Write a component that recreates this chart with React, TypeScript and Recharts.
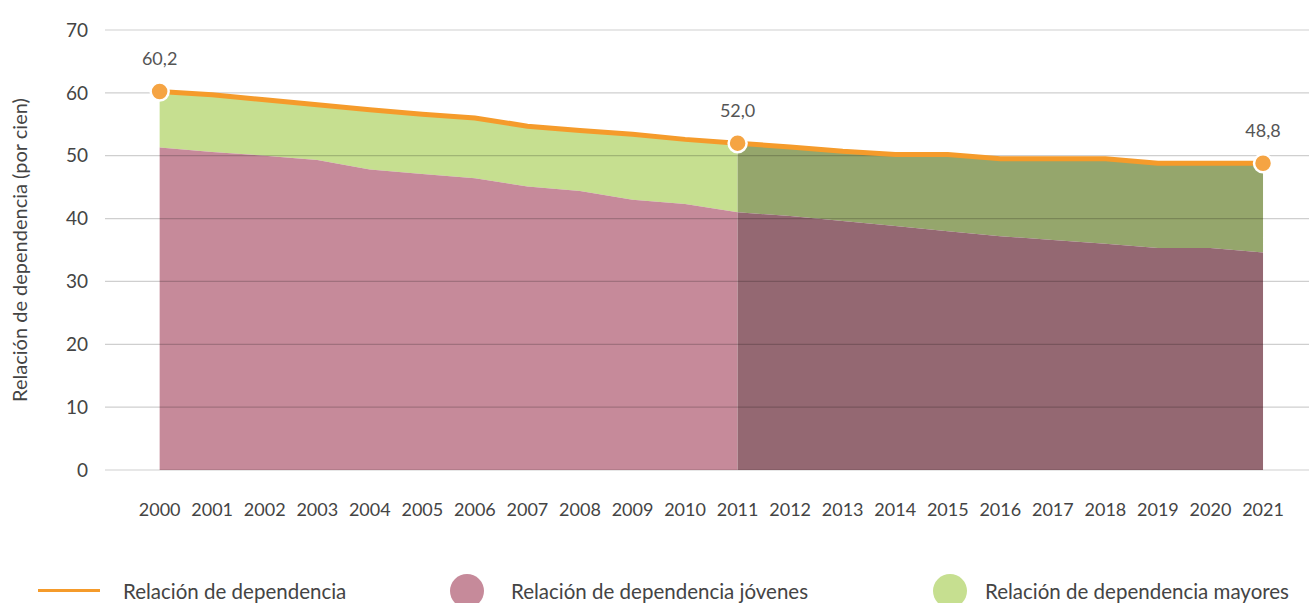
import React from 'react';
import {
  ComposedChart,
  Area,
  Line,
  XAxis,
  YAxis,
  ReferenceLine,
} from 'recharts';

const years = [
  2000, 2001, 2002, 2003, 2004, 2005, 2006, 2007, 2008, 2009, 2010,
  2011, 2012, 2013, 2014, 2015, 2016, 2017, 2018, 2019, 2020, 2021,
];
const totalRatio = [
  60.2, 59.7, 58.9, 58.1, 57.3, 56.6, 56.0, 54.7, 54.0, 53.4, 52.6,
  52.0, 51.4, 50.7, 50.2, 50.2, 49.5, 49.5, 49.5, 48.8, 48.8, 48.8,
];
const youngRatio = [
  51.3, 50.6, 50.0, 49.3, 47.8, 47.1, 46.4, 45.1, 44.4, 43.0, 42.3,
  41.0, 40.4, 39.6, 38.8, 38.0, 37.2, 36.6, 36.0, 35.3, 35.3, 34.6,
];
const highlightFrom = 2011;
const labelledYears = [2000, 2011, 2021];
const yTicks = [0, 10, 20, 30, 40, 50, 60, 70];

const ORANGE = '#f59b2b';
const DOT = '#f5a443';
const PINK = '#c68a9a';
const GREEN = '#c6df90';
const PINK_DARK = '#946872';
const GREEN_DARK = '#95a66c';
const TEXT = '#444';
const FONT = 'Lato, "Open Sans", sans-serif';

const chartData = years.map((year, i) => {
  const early = year <= highlightFrom;
  const late = year >= highlightFrom;
  return {
    year,
    total: totalRatio[i],
    youngA: early ? youngRatio[i] : null,
    olderA: early ? [youngRatio[i], totalRatio[i]] : null,
    youngB: late ? youngRatio[i] : null,
    olderB: late ? [youngRatio[i], totalRatio[i]] : null,
  };
});

const fmt = (v: number) => v.toFixed(1).replace('.', ',');

const TotalDot = (props: any) => {
  const { cx, cy, payload, index } = props;
  if (!labelledYears.includes(payload.year)) return <g key={`d${index}`} />;
  return (
    <g key={`d${index}`}>
      <circle cx={cx} cy={cy} r={9} fill={DOT} stroke="#fff" strokeWidth={2.5} />
      <text
        x={cx}
        y={cy - 31}
        textAnchor="middle"
        dominantBaseline="middle"
        fill="#555"
        fontSize={18}
        fontFamily={FONT}
      >
        {fmt(payload.total)}
      </text>
    </g>
  );
};

function LegendRow() {
  const text: React.CSSProperties = {
    position: 'absolute',
    top: 577,
    fontSize: 20.5,
    color: TEXT,
    fontFamily: FONT,
    whiteSpace: 'nowrap',
    lineHeight: '28px',
  };
  return (
    <>
      <div style={{ position: 'absolute', left: 38, top: 589, width: 62, height: 3, background: ORANGE }} />
      <div style={{ ...text, left: 123 }}>Relación de dependencia</div>
      <div style={{ position: 'absolute', left: 450, top: 574, width: 34, height: 34, borderRadius: '50%', background: PINK }} />
      <div style={{ ...text, left: 511 }}>Relación de dependencia jóvenes</div>
      <div style={{ position: 'absolute', left: 933, top: 574, width: 34, height: 34, borderRadius: '50%', background: GREEN }} />
      <div style={{ ...text, left: 985 }}>Relación de dependencia mayores</div>
    </>
  );
}

export default function App() {
  return (
    <div style={{ position: 'absolute', left: 0, top: 0, width: 1309, height: 603, overflow: 'hidden', background: '#fff' }}>
      <ComposedChart
        width={1309}
        height={603}
        data={chartData}
        margin={{ top: 30, right: 0, left: 0, bottom: 73 }}
      >
        <XAxis
          dataKey="year"
          type="number"
          domain={[1998.96, 2021.875]}
          ticks={years}
          allowDataOverflow
          axisLine={false}
          tickLine={false}
          tickSize={0}
          tickMargin={33}
          height={60}
          tick={{ fill: TEXT, fontSize: 18, fontFamily: FONT }}
        />
        <YAxis
          domain={[0, 70]}
          ticks={yTicks}
          width={105}
          axisLine={false}
          tickLine={false}
          tickSize={0}
          tickMargin={17}
          tick={{ fill: TEXT, fontSize: 19, fontFamily: FONT }}
          label={{
            value: 'Relación de dependencia (por cien)',
            angle: -90,
            position: 'insideLeft',
            dx: 15,
            dy: 0,
            style: { fill: TEXT, fontSize: 20, fontFamily: FONT, textAnchor: 'middle' },
          }}
        />
        <Area dataKey="olderA" type="linear" fill={GREEN} fillOpacity={1} stroke="none" isAnimationActive={false} />
        <Area dataKey="youngA" type="linear" fill={PINK} fillOpacity={1} stroke="none" isAnimationActive={false} />
        <Area dataKey="olderB" type="linear" fill={GREEN_DARK} fillOpacity={1} stroke="none" isAnimationActive={false} />
        <Area dataKey="youngB" type="linear" fill={PINK_DARK} fillOpacity={1} stroke="none" isAnimationActive={false} />
        {yTicks.map((t) => (
          <ReferenceLine key={t} y={t} stroke="#000" strokeOpacity={0.19} strokeWidth={1.2} />
        ))}
        <Line
          dataKey="total"
          type="linear"
          stroke={ORANGE}
          strokeWidth={5}
          dot={TotalDot}
          activeDot={false}
          isAnimationActive={false}
        />
      </ComposedChart>
      <LegendRow />
    </div>
  );
}
